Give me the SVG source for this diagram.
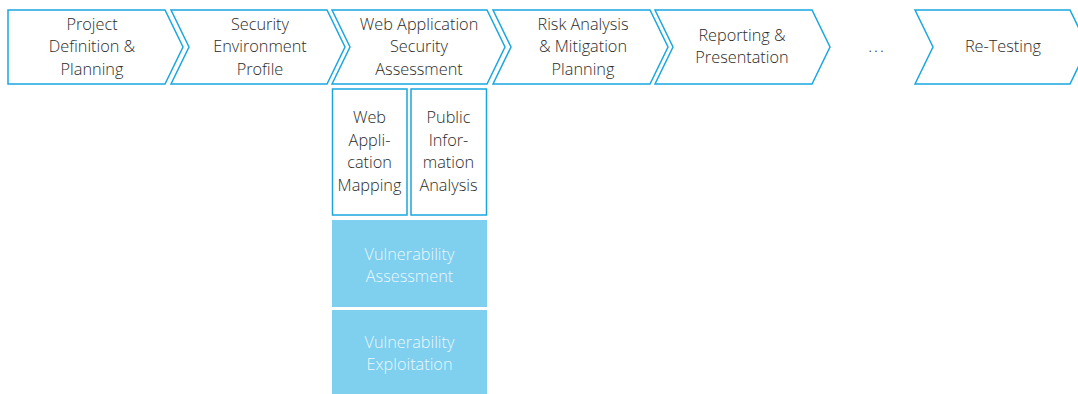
<svg xmlns="http://www.w3.org/2000/svg" width="1078" height="394" viewBox="0 0 1078 394">
<style>
.ch{fill:#fff;stroke:#1aa7e1;stroke-width:1.5;stroke-linejoin:miter}
.bx{fill:#fff;stroke:#1aa7e1;stroke-width:1.5}
.fl{fill:#7fcfef}
text{font-family:"Open Sans","Noto Sans",sans-serif;font-size:16.3px;font-weight:300;fill:#2b2b2b;text-anchor:middle}
.w{fill:#eaf7fd}
</style>
<rect width="1078" height="394" fill="#fff"/>
<g id="n1"><path class="ch" d="M8,10H165L183,47L165,84H8Z"/>
<text x="92" y="29.5">Project</text><text x="92" y="52">Definition &amp;</text><text x="92" y="74.5">Planning</text></g>
<g id="n2"><path class="ch" d="M171,10H327L345,47L327,84H171L189,47Z"/>
<text x="260" y="29.5">Security</text><text x="260" y="52">Environment</text><text x="260" y="74.5">Profile</text></g>
<g id="n3"><path class="ch" d="M332,10H487L505,47L487,84H332L350,47Z"/>
<text x="419" y="29.5">Web Application</text><text x="419" y="52">Security</text><text x="419" y="74.5">Assessment</text></g>
<g id="n4"><path class="ch" d="M493,10H650L668,47L650,84H493L511,47Z"/>
<text x="583" y="29.5">Risk Analysis</text><text x="583" y="52">&amp; Mitigation</text><text x="583" y="74.5">Planning</text></g>
<g id="n5"><path class="ch" d="M655,10H812L830,47L812,84H655L673,47Z"/>
<text x="742" y="40.5">Reporting &amp;</text><text x="742" y="63">Presentation</text></g>
<g id="n6"><text x="877" y="52" style="letter-spacing:2px">...</text></g>
<g id="n7"><path class="ch" d="M915,10H1070L1088,47L1070,84H915L933,47Z"/>
<text x="1003" y="52">Re-Testing</text></g>
<g id="n8"><rect class="bx" x="332.5" y="89" width="74.5" height="126"/>
<text x="369.5" y="123">Web</text><text x="369.5" y="145.5">Appli-</text><text x="369.5" y="168">cation</text><text x="369.5" y="190.5">Mapping</text></g>
<g id="n9"><rect class="bx" x="411" y="89" width="75.5" height="126"/>
<text x="448.5" y="123">Public</text><text x="448.5" y="145.5">Infor-</text><text x="448.5" y="168">mation</text><text x="448.5" y="190.5">Analysis</text></g>
<g id="n10"><rect class="fl" x="332" y="220" width="155" height="87"/>
<text class="w" x="409.5" y="259.5">Vulnerability</text><text class="w" x="409.5" y="282">Assessment</text></g>
<g id="n11"><rect class="fl" x="332" y="310" width="155" height="84"/>
<text class="w" x="409.5" y="347.5">Vulnerability</text><text class="w" x="409.5" y="370">Exploitation</text></g>
<g id="connectors"></g>
</svg>
